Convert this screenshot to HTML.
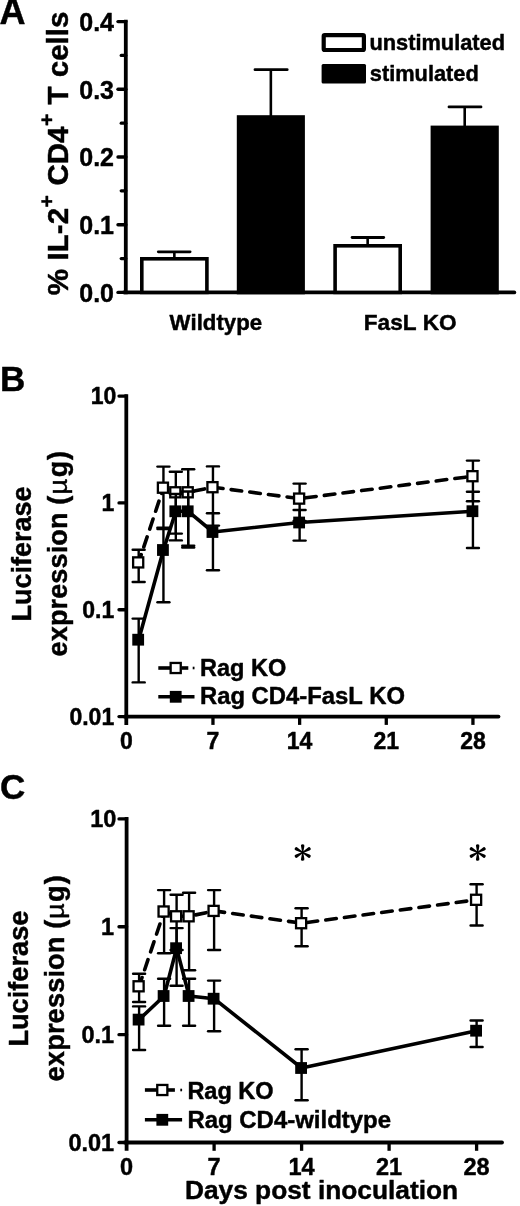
<!DOCTYPE html>
<html><head><meta charset="utf-8"><title>Figure</title>
<style>
html,body{margin:0;padding:0;background:#fff;}
body{width:520px;height:1206px;overflow:hidden;font-family:"Liberation Sans",sans-serif;}
svg{display:block;will-change:transform;}
svg text{font-family:"Liberation Sans",sans-serif;fill:#000;font-kerning:none;stroke:#000;stroke-width:0.45px;stroke-linejoin:round;}
</style></head><body>
<svg width="520" height="1206" viewBox="0 0 520 1206">
<rect x="0" y="0" width="520" height="1206" fill="#fff"/>
<text x="-0.6" y="24.4" font-size="36" font-weight="bold" text-anchor="start" >A</text>
<line x1="125.8" y1="19.700000000000003" x2="125.8" y2="294.29999999999995" stroke="#000" stroke-width="3.8" />
<line x1="123.89999999999999" y1="292.4" x2="514.3" y2="292.4" stroke="#000" stroke-width="3.8" stroke-linecap="round"/>
<line x1="118" y1="292.4" x2="125.8" y2="292.4" stroke="#000" stroke-width="3.4" stroke-linecap="round"/>
<text x="114.0" y="301.79999999999995" font-size="25" font-weight="bold" text-anchor="end" >0.0</text>
<line x1="121.2" y1="258.54999999999995" x2="125.8" y2="258.54999999999995" stroke="#000" stroke-width="3.2" stroke-linecap="round"/>
<line x1="118" y1="224.7" x2="125.8" y2="224.7" stroke="#000" stroke-width="3.4" stroke-linecap="round"/>
<text x="114.0" y="234.1" font-size="25" font-weight="bold" text-anchor="end" >0.1</text>
<line x1="121.2" y1="190.85" x2="125.8" y2="190.85" stroke="#000" stroke-width="3.2" stroke-linecap="round"/>
<line x1="118" y1="157.0" x2="125.8" y2="157.0" stroke="#000" stroke-width="3.4" stroke-linecap="round"/>
<text x="114.0" y="166.4" font-size="25" font-weight="bold" text-anchor="end" >0.2</text>
<line x1="121.2" y1="123.15" x2="125.8" y2="123.15" stroke="#000" stroke-width="3.2" stroke-linecap="round"/>
<line x1="118" y1="89.30000000000001" x2="125.8" y2="89.30000000000001" stroke="#000" stroke-width="3.4" stroke-linecap="round"/>
<text x="114.0" y="98.70000000000002" font-size="25" font-weight="bold" text-anchor="end" >0.3</text>
<line x1="121.2" y1="55.45000000000002" x2="125.8" y2="55.45000000000002" stroke="#000" stroke-width="3.2" stroke-linecap="round"/>
<line x1="118" y1="21.600000000000023" x2="125.8" y2="21.600000000000023" stroke="#000" stroke-width="3.4" stroke-linecap="round"/>
<text x="114.0" y="31.00000000000002" font-size="25" font-weight="bold" text-anchor="end" >0.4</text>
<g transform="translate(68.3,295.2) rotate(-90)"><text x="0" y="0" font-size="29.5" font-weight="bold">%</text></g>
<g transform="translate(68.3,260.4) rotate(-90)"><text x="0" y="0" font-size="29.5" font-weight="bold">IL-2</text></g>
<g transform="translate(54.0,207.4) rotate(-90)"><text x="0" y="0" font-size="21" font-weight="bold">+</text></g>
<g transform="translate(68.3,185.5) rotate(-90)"><text x="0" y="0" font-size="29.5" font-weight="bold">CD4</text></g>
<g transform="translate(54.0,126.1) rotate(-90)"><text x="0" y="0" font-size="21" font-weight="bold">+</text></g>
<g transform="translate(68.3,104.4) rotate(-90)"><text x="0" y="0" font-size="29.5" font-weight="bold">T</text></g>
<g transform="translate(68.3,77.2) rotate(-90)"><text x="0" y="0" font-size="29.5" font-weight="bold">cells</text></g>
<line x1="174.35" y1="251.8" x2="174.35" y2="259.0" stroke="#000" stroke-width="2.6" />
<line x1="158.3" y1="251.8" x2="190.1" y2="251.8" stroke="#000" stroke-width="2.8" stroke-linecap="round"/>
<rect x="141.8" y="258.8" width="65.10" height="33.60" fill="#fff" stroke="#000" stroke-width="3.6"/>
<line x1="270.85" y1="69.7" x2="270.85" y2="117.2" stroke="#000" stroke-width="2.6" />
<line x1="255.0" y1="69.7" x2="287.2" y2="69.7" stroke="#000" stroke-width="2.8" stroke-linecap="round"/>
<rect x="236.8" y="115.2" width="68.10" height="179.10" fill="#000"/>
<line x1="367.65" y1="237.5" x2="367.65" y2="246.0" stroke="#000" stroke-width="2.6" />
<line x1="352.1" y1="237.5" x2="383.7" y2="237.5" stroke="#000" stroke-width="2.8" stroke-linecap="round"/>
<rect x="335.1" y="245.8" width="65.10" height="46.60" fill="#fff" stroke="#000" stroke-width="3.6"/>
<line x1="464.70000000000005" y1="106.9" x2="464.70000000000005" y2="127.6" stroke="#000" stroke-width="2.6" />
<line x1="449.0" y1="106.9" x2="481.0" y2="106.9" stroke="#000" stroke-width="2.8" stroke-linecap="round"/>
<rect x="430.6" y="125.6" width="68.20" height="168.70" fill="#000"/>
<text x="169.6" y="330.4" font-size="22.2" font-weight="bold" text-anchor="start" >Wildtype</text>
<text x="363.8" y="330.4" font-size="22.6" font-weight="bold" text-anchor="start" >FasL KO</text>
<rect x="323.7" y="35.2" width="40.2" height="14.8" rx="1" fill="#fff" stroke="#000" stroke-width="4.2"/>
<text x="369.4" y="50.4" font-size="21.8" font-weight="bold" text-anchor="start" >unstimulated</text>
<rect x="321.6" y="64" width="44.4" height="19.4" rx="1.5" fill="#000"/>
<text x="369.8" y="80.8" font-size="21.8" font-weight="bold" text-anchor="start" >stimulated</text>
<text x="0" y="391.2" font-size="35" font-weight="bold" text-anchor="start" >B</text>
<line x1="126.3" y1="394.20000000000005" x2="126.3" y2="724.9" stroke="#000" stroke-width="3.8" />
<line x1="124.39999999999999" y1="716.6" x2="498.5" y2="716.6" stroke="#000" stroke-width="3.8" stroke-linecap="round"/>
<line x1="119" y1="396.1" x2="126.3" y2="396.1" stroke="#000" stroke-width="3.3" stroke-linecap="round"/>
<text x="116.3" y="404.1" font-size="23" font-weight="bold" text-anchor="end" >10</text>
<line x1="119" y1="502.93333333333334" x2="126.3" y2="502.93333333333334" stroke="#000" stroke-width="3.3" stroke-linecap="round"/>
<text x="114.2" y="510.93333333333334" font-size="23" font-weight="bold" text-anchor="end" >1</text>
<line x1="119" y1="609.7666666666667" x2="126.3" y2="609.7666666666667" stroke="#000" stroke-width="3.3" stroke-linecap="round"/>
<text x="114.2" y="617.7666666666667" font-size="23" font-weight="bold" text-anchor="end" >0.1</text>
<line x1="119" y1="716.6" x2="126.3" y2="716.6" stroke="#000" stroke-width="3.3" stroke-linecap="round"/>
<text x="114.2" y="724.6" font-size="23" font-weight="bold" text-anchor="end" >0.01</text>
<text x="126.30" y="748.9" font-size="23" font-weight="bold" text-anchor="middle" >0</text>
<line x1="212.96" y1="716.6" x2="212.96" y2="724.9" stroke="#000" stroke-width="3.3" />
<text x="212.96" y="748.9" font-size="23" font-weight="bold" text-anchor="middle" >7</text>
<line x1="299.62" y1="716.6" x2="299.62" y2="724.9" stroke="#000" stroke-width="3.3" />
<text x="299.62" y="748.9" font-size="23" font-weight="bold" text-anchor="middle" >14</text>
<line x1="386.28" y1="716.6" x2="386.28" y2="724.9" stroke="#000" stroke-width="3.3" />
<text x="386.28" y="748.9" font-size="23" font-weight="bold" text-anchor="middle" >21</text>
<line x1="472.94" y1="716.6" x2="472.94" y2="724.9" stroke="#000" stroke-width="3.3" />
<text x="472.94" y="748.9" font-size="23" font-weight="bold" text-anchor="middle" >28</text>
<g transform="translate(30.6,621.6) rotate(-90)"><text x="0" y="0" font-size="27" font-weight="bold">Luciferase</text></g>
<g transform="translate(66.7,656.4) rotate(-90)"><text x="0" y="0" font-size="27" font-weight="bold" textLength="160.6" lengthAdjust="spacing">expression (</text></g>
<g transform="translate(66.7,494.4) rotate(-90)"><text x="0" y="0" font-size="27" font-weight="normal" transform="scale(1,0.93)">µ</text></g>
<g transform="translate(66.7,477.3) rotate(-90)"><text x="0" y="0" font-size="27" font-weight="bold" textLength="26.4" lengthAdjust="spacing">g)</text></g>
<line x1="138.68" y1="549.8" x2="138.68" y2="582.0" stroke="#000" stroke-width="2.4" />
<line x1="132.68" y1="549.8" x2="144.68" y2="549.8" stroke="#000" stroke-width="2.4" stroke-linecap="round"/>
<line x1="132.68" y1="582.0" x2="144.68" y2="582.0" stroke="#000" stroke-width="2.4" stroke-linecap="round"/>
<line x1="163.44" y1="466.6" x2="163.44" y2="529.0" stroke="#000" stroke-width="2.4" />
<line x1="157.44" y1="466.6" x2="169.44" y2="466.6" stroke="#000" stroke-width="2.4" stroke-linecap="round"/>
<line x1="157.44" y1="529.0" x2="169.44" y2="529.0" stroke="#000" stroke-width="2.4" stroke-linecap="round"/>
<line x1="175.82" y1="471.8" x2="175.82" y2="533.6" stroke="#000" stroke-width="2.4" />
<line x1="169.82" y1="471.8" x2="181.82" y2="471.8" stroke="#000" stroke-width="2.4" stroke-linecap="round"/>
<line x1="169.82" y1="533.6" x2="181.82" y2="533.6" stroke="#000" stroke-width="2.4" stroke-linecap="round"/>
<line x1="188.20" y1="469.2" x2="188.20" y2="545.8" stroke="#000" stroke-width="2.4" />
<line x1="182.20" y1="469.2" x2="194.20" y2="469.2" stroke="#000" stroke-width="2.4" stroke-linecap="round"/>
<line x1="182.20" y1="545.8" x2="194.20" y2="545.8" stroke="#000" stroke-width="2.4" stroke-linecap="round"/>
<line x1="212.96" y1="466.4" x2="212.96" y2="525.6" stroke="#000" stroke-width="2.4" />
<line x1="206.96" y1="466.4" x2="218.96" y2="466.4" stroke="#000" stroke-width="2.4" stroke-linecap="round"/>
<line x1="206.96" y1="525.6" x2="218.96" y2="525.6" stroke="#000" stroke-width="2.4" stroke-linecap="round"/>
<line x1="299.62" y1="483.6" x2="299.62" y2="521.0" stroke="#000" stroke-width="2.4" />
<line x1="293.62" y1="483.6" x2="305.62" y2="483.6" stroke="#000" stroke-width="2.4" stroke-linecap="round"/>
<line x1="293.62" y1="521.0" x2="305.62" y2="521.0" stroke="#000" stroke-width="2.4" stroke-linecap="round"/>
<line x1="472.94" y1="460.6" x2="472.94" y2="501.2" stroke="#000" stroke-width="2.4" />
<line x1="466.94" y1="460.6" x2="478.94" y2="460.6" stroke="#000" stroke-width="2.4" stroke-linecap="round"/>
<line x1="466.94" y1="501.2" x2="478.94" y2="501.2" stroke="#000" stroke-width="2.4" stroke-linecap="round"/>
<polyline points="138.68,562.4 163.44,487.7 175.82,492.3 188.20,492.3 212.96,487.2 299.62,498.6 472.94,476.2" fill="none" stroke="#000" stroke-width="3.6" stroke-dasharray="10.6 8.2" stroke-dashoffset="2.5" stroke-linecap="round"/>
<rect x="133.13" y="557.35" width="10.10" height="10.10" fill="#fff" stroke="#000" stroke-width="2.3"/>
<rect x="157.89" y="482.65" width="10.10" height="10.10" fill="#fff" stroke="#000" stroke-width="2.3"/>
<rect x="170.27" y="487.25" width="10.10" height="10.10" fill="#fff" stroke="#000" stroke-width="2.3"/>
<rect x="182.65" y="487.25" width="10.10" height="10.10" fill="#fff" stroke="#000" stroke-width="2.3"/>
<rect x="207.41" y="482.15" width="10.10" height="10.10" fill="#fff" stroke="#000" stroke-width="2.3"/>
<rect x="294.07" y="493.55" width="10.10" height="10.10" fill="#fff" stroke="#000" stroke-width="2.3"/>
<rect x="467.39" y="471.15" width="10.10" height="10.10" fill="#fff" stroke="#000" stroke-width="2.3"/>
<line x1="138.68" y1="618.6" x2="138.68" y2="682.4" stroke="#000" stroke-width="2.4" />
<line x1="132.68" y1="618.6" x2="144.68" y2="618.6" stroke="#000" stroke-width="2.4" stroke-linecap="round"/>
<line x1="132.68" y1="682.4" x2="144.68" y2="682.4" stroke="#000" stroke-width="2.4" stroke-linecap="round"/>
<line x1="163.44" y1="527.6" x2="163.44" y2="602.3" stroke="#000" stroke-width="2.4" />
<line x1="157.44" y1="527.6" x2="169.44" y2="527.6" stroke="#000" stroke-width="2.4" stroke-linecap="round"/>
<line x1="157.44" y1="602.3" x2="169.44" y2="602.3" stroke="#000" stroke-width="2.4" stroke-linecap="round"/>
<line x1="175.82" y1="494.0" x2="175.82" y2="540.4" stroke="#000" stroke-width="2.4" />
<line x1="169.82" y1="494.0" x2="181.82" y2="494.0" stroke="#000" stroke-width="2.4" stroke-linecap="round"/>
<line x1="169.82" y1="540.4" x2="181.82" y2="540.4" stroke="#000" stroke-width="2.4" stroke-linecap="round"/>
<line x1="188.20" y1="491.5" x2="188.20" y2="547.6" stroke="#000" stroke-width="2.4" />
<line x1="182.20" y1="491.5" x2="194.20" y2="491.5" stroke="#000" stroke-width="2.4" stroke-linecap="round"/>
<line x1="182.20" y1="547.6" x2="194.20" y2="547.6" stroke="#000" stroke-width="2.4" stroke-linecap="round"/>
<line x1="212.96" y1="513.2" x2="212.96" y2="570.2" stroke="#000" stroke-width="2.4" />
<line x1="206.96" y1="513.2" x2="218.96" y2="513.2" stroke="#000" stroke-width="2.4" stroke-linecap="round"/>
<line x1="206.96" y1="570.2" x2="218.96" y2="570.2" stroke="#000" stroke-width="2.4" stroke-linecap="round"/>
<line x1="299.62" y1="510.0" x2="299.62" y2="540.6" stroke="#000" stroke-width="2.4" />
<line x1="293.62" y1="510.0" x2="305.62" y2="510.0" stroke="#000" stroke-width="2.4" stroke-linecap="round"/>
<line x1="293.62" y1="540.6" x2="305.62" y2="540.6" stroke="#000" stroke-width="2.4" stroke-linecap="round"/>
<line x1="472.94" y1="491.8" x2="472.94" y2="548.0" stroke="#000" stroke-width="2.4" />
<line x1="466.94" y1="491.8" x2="478.94" y2="491.8" stroke="#000" stroke-width="2.4" stroke-linecap="round"/>
<line x1="466.94" y1="548.0" x2="478.94" y2="548.0" stroke="#000" stroke-width="2.4" stroke-linecap="round"/>
<polyline points="138.68,639.7 163.44,550.0 175.82,511.3 188.20,511.3 212.96,532.0 299.62,522.5 472.94,511.2" fill="none" stroke="#000" stroke-width="3.6" stroke-linejoin="round"/>
<rect x="132.28" y="633.80" width="11.8" height="11.8" fill="#000"/>
<rect x="157.04" y="544.10" width="11.8" height="11.8" fill="#000"/>
<rect x="169.42" y="505.40" width="11.8" height="11.8" fill="#000"/>
<rect x="181.80" y="505.40" width="11.8" height="11.8" fill="#000"/>
<rect x="206.56" y="526.10" width="11.8" height="11.8" fill="#000"/>
<rect x="293.22" y="516.60" width="11.8" height="11.8" fill="#000"/>
<rect x="466.54" y="505.30" width="11.8" height="11.8" fill="#000"/>
<line x1="158.3" y1="668.0" x2="170.3" y2="668.0" stroke="#000" stroke-width="3.6" />
<line x1="181.3" y1="668.0" x2="188.3" y2="668.0" stroke="#000" stroke-width="3.6" />
<line x1="192.7" y1="668.0" x2="194.5" y2="668.0" stroke="#000" stroke-width="2.6" />
<rect x="170.65" y="662.95" width="10.10" height="10.10" fill="#fff" stroke="#000" stroke-width="2.3"/>
<line x1="158.3" y1="696.8" x2="194.5" y2="696.8" stroke="#000" stroke-width="3.6" />
<rect x="169.80" y="690.90" width="11.8" height="11.8" fill="#000"/>
<text x="200.0" y="676.3" font-size="23.5" font-weight="bold" text-anchor="start" >Rag KO</text>
<text x="200.0" y="704.4" font-size="23.5" font-weight="bold" text-anchor="start" textLength="205" lengthAdjust="spacingAndGlyphs">Rag CD4-FasL KO</text>
<text x="0" y="799.3" font-size="35" font-weight="bold" text-anchor="start" >C</text>
<line x1="126.6" y1="817.0" x2="126.6" y2="1150.8" stroke="#000" stroke-width="3.8" />
<line x1="124.69999999999999" y1="1142.5" x2="502.0" y2="1142.5" stroke="#000" stroke-width="3.8" stroke-linecap="round"/>
<line x1="119" y1="818.9" x2="126.6" y2="818.9" stroke="#000" stroke-width="3.3" stroke-linecap="round"/>
<text x="116.3" y="827.1999999999999" font-size="23.5" font-weight="bold" text-anchor="end" >10</text>
<line x1="119" y1="926.7666666666667" x2="126.6" y2="926.7666666666667" stroke="#000" stroke-width="3.3" stroke-linecap="round"/>
<text x="114.2" y="935.0666666666666" font-size="23.5" font-weight="bold" text-anchor="end" >1</text>
<line x1="119" y1="1034.6333333333332" x2="126.6" y2="1034.6333333333332" stroke="#000" stroke-width="3.3" stroke-linecap="round"/>
<text x="114.2" y="1042.9333333333332" font-size="23.5" font-weight="bold" text-anchor="end" >0.1</text>
<line x1="119" y1="1142.5" x2="126.6" y2="1142.5" stroke="#000" stroke-width="3.3" stroke-linecap="round"/>
<text x="114.2" y="1150.8" font-size="23.5" font-weight="bold" text-anchor="end" >0.01</text>
<text x="126.60" y="1174.5" font-size="23.5" font-weight="bold" text-anchor="middle" >0</text>
<line x1="214.10" y1="1142.5" x2="214.10" y2="1150.8" stroke="#000" stroke-width="3.3" />
<text x="214.10" y="1174.5" font-size="23.5" font-weight="bold" text-anchor="middle" >7</text>
<line x1="301.60" y1="1142.5" x2="301.60" y2="1150.8" stroke="#000" stroke-width="3.3" />
<text x="301.60" y="1174.5" font-size="23.5" font-weight="bold" text-anchor="middle" >14</text>
<line x1="389.10" y1="1142.5" x2="389.10" y2="1150.8" stroke="#000" stroke-width="3.3" />
<text x="389.10" y="1174.5" font-size="23.5" font-weight="bold" text-anchor="middle" >21</text>
<line x1="476.60" y1="1142.5" x2="476.60" y2="1150.8" stroke="#000" stroke-width="3.3" />
<text x="476.60" y="1174.5" font-size="23.5" font-weight="bold" text-anchor="middle" >28</text>
<g transform="translate(27.7,1046.6) rotate(-90)"><text x="0" y="0" font-size="27.2" font-weight="bold">Luciferase</text></g>
<g transform="translate(64.0,1081.4) rotate(-90)"><text x="0" y="0" font-size="27.2" font-weight="bold" textLength="161.8" lengthAdjust="spacing">expression (</text></g>
<g transform="translate(64.0,919.1) rotate(-90)"><text x="0" y="0" font-size="27.2" font-weight="normal" transform="scale(1,0.93)">µ</text></g>
<g transform="translate(64.0,901.9) rotate(-90)"><text x="0" y="0" font-size="27.2" font-weight="bold" textLength="26.6" lengthAdjust="spacing">g)</text></g>
<line x1="139.10" y1="973.8" x2="139.10" y2="1002.0" stroke="#000" stroke-width="2.4" />
<line x1="133.10" y1="973.8" x2="145.10" y2="973.8" stroke="#000" stroke-width="2.4" stroke-linecap="round"/>
<line x1="133.10" y1="1002.0" x2="145.10" y2="1002.0" stroke="#000" stroke-width="2.4" stroke-linecap="round"/>
<line x1="164.10" y1="890.1" x2="164.10" y2="953.3" stroke="#000" stroke-width="2.4" />
<line x1="158.10" y1="890.1" x2="170.10" y2="890.1" stroke="#000" stroke-width="2.4" stroke-linecap="round"/>
<line x1="158.10" y1="953.3" x2="170.10" y2="953.3" stroke="#000" stroke-width="2.4" stroke-linecap="round"/>
<line x1="176.60" y1="894.7" x2="176.60" y2="950.0" stroke="#000" stroke-width="2.4" />
<line x1="170.60" y1="894.7" x2="182.60" y2="894.7" stroke="#000" stroke-width="2.4" stroke-linecap="round"/>
<line x1="170.60" y1="950.0" x2="182.60" y2="950.0" stroke="#000" stroke-width="2.4" stroke-linecap="round"/>
<line x1="189.10" y1="892.7" x2="189.10" y2="970.2" stroke="#000" stroke-width="2.4" />
<line x1="183.10" y1="892.7" x2="195.10" y2="892.7" stroke="#000" stroke-width="2.4" stroke-linecap="round"/>
<line x1="183.10" y1="970.2" x2="195.10" y2="970.2" stroke="#000" stroke-width="2.4" stroke-linecap="round"/>
<line x1="214.10" y1="890.1" x2="214.10" y2="950.0" stroke="#000" stroke-width="2.4" />
<line x1="208.10" y1="890.1" x2="220.10" y2="890.1" stroke="#000" stroke-width="2.4" stroke-linecap="round"/>
<line x1="208.10" y1="950.0" x2="220.10" y2="950.0" stroke="#000" stroke-width="2.4" stroke-linecap="round"/>
<line x1="301.60" y1="908.3" x2="301.60" y2="946.3" stroke="#000" stroke-width="2.4" />
<line x1="295.60" y1="908.3" x2="307.60" y2="908.3" stroke="#000" stroke-width="2.4" stroke-linecap="round"/>
<line x1="295.60" y1="946.3" x2="307.60" y2="946.3" stroke="#000" stroke-width="2.4" stroke-linecap="round"/>
<line x1="476.60" y1="884.3" x2="476.60" y2="925.5" stroke="#000" stroke-width="2.4" />
<line x1="470.60" y1="884.3" x2="482.60" y2="884.3" stroke="#000" stroke-width="2.4" stroke-linecap="round"/>
<line x1="470.60" y1="925.5" x2="482.60" y2="925.5" stroke="#000" stroke-width="2.4" stroke-linecap="round"/>
<polyline points="139.10,986.3 164.10,911.5 176.60,916.3 189.10,916.3 214.10,910.9 301.60,923.2 476.60,899.8" fill="none" stroke="#000" stroke-width="3.6" stroke-dasharray="10.6 8.2" stroke-dashoffset="1.3" stroke-linecap="round"/>
<rect x="133.55" y="981.25" width="10.10" height="10.10" fill="#fff" stroke="#000" stroke-width="2.3"/>
<rect x="158.55" y="906.45" width="10.10" height="10.10" fill="#fff" stroke="#000" stroke-width="2.3"/>
<rect x="171.05" y="911.25" width="10.10" height="10.10" fill="#fff" stroke="#000" stroke-width="2.3"/>
<rect x="183.55" y="911.25" width="10.10" height="10.10" fill="#fff" stroke="#000" stroke-width="2.3"/>
<rect x="208.55" y="905.85" width="10.10" height="10.10" fill="#fff" stroke="#000" stroke-width="2.3"/>
<rect x="296.05" y="918.15" width="10.10" height="10.10" fill="#fff" stroke="#000" stroke-width="2.3"/>
<rect x="471.05" y="894.75" width="10.10" height="10.10" fill="#fff" stroke="#000" stroke-width="2.3"/>
<line x1="139.10" y1="1006.4" x2="139.10" y2="1050.0" stroke="#000" stroke-width="2.4" />
<line x1="133.10" y1="1006.4" x2="145.10" y2="1006.4" stroke="#000" stroke-width="2.4" stroke-linecap="round"/>
<line x1="133.10" y1="1050.0" x2="145.10" y2="1050.0" stroke="#000" stroke-width="2.4" stroke-linecap="round"/>
<line x1="164.10" y1="978.8" x2="164.10" y2="1025.7" stroke="#000" stroke-width="2.4" />
<line x1="158.10" y1="978.8" x2="170.10" y2="978.8" stroke="#000" stroke-width="2.4" stroke-linecap="round"/>
<line x1="158.10" y1="1025.7" x2="170.10" y2="1025.7" stroke="#000" stroke-width="2.4" stroke-linecap="round"/>
<line x1="176.60" y1="928.1" x2="176.60" y2="985.8" stroke="#000" stroke-width="2.4" />
<line x1="170.60" y1="928.1" x2="182.60" y2="928.1" stroke="#000" stroke-width="2.4" stroke-linecap="round"/>
<line x1="170.60" y1="985.8" x2="182.60" y2="985.8" stroke="#000" stroke-width="2.4" stroke-linecap="round"/>
<line x1="189.10" y1="978.8" x2="189.10" y2="1025.7" stroke="#000" stroke-width="2.4" />
<line x1="183.10" y1="978.8" x2="195.10" y2="978.8" stroke="#000" stroke-width="2.4" stroke-linecap="round"/>
<line x1="183.10" y1="1025.7" x2="195.10" y2="1025.7" stroke="#000" stroke-width="2.4" stroke-linecap="round"/>
<line x1="214.10" y1="980.6" x2="214.10" y2="1031.2" stroke="#000" stroke-width="2.4" />
<line x1="208.10" y1="980.6" x2="220.10" y2="980.6" stroke="#000" stroke-width="2.4" stroke-linecap="round"/>
<line x1="208.10" y1="1031.2" x2="220.10" y2="1031.2" stroke="#000" stroke-width="2.4" stroke-linecap="round"/>
<line x1="301.60" y1="1049.3" x2="301.60" y2="1100.3" stroke="#000" stroke-width="2.4" />
<line x1="295.60" y1="1049.3" x2="307.60" y2="1049.3" stroke="#000" stroke-width="2.4" stroke-linecap="round"/>
<line x1="295.60" y1="1100.3" x2="307.60" y2="1100.3" stroke="#000" stroke-width="2.4" stroke-linecap="round"/>
<line x1="476.60" y1="1020.5" x2="476.60" y2="1047.0" stroke="#000" stroke-width="2.4" />
<line x1="470.60" y1="1020.5" x2="482.60" y2="1020.5" stroke="#000" stroke-width="2.4" stroke-linecap="round"/>
<line x1="470.60" y1="1047.0" x2="482.60" y2="1047.0" stroke="#000" stroke-width="2.4" stroke-linecap="round"/>
<polyline points="139.10,1019.6 164.10,996.0 176.60,948.2 189.10,996.0 214.10,998.7 301.60,1068.0 476.60,1030.7" fill="none" stroke="#000" stroke-width="3.6" stroke-linejoin="round"/>
<rect x="132.70" y="1013.70" width="11.8" height="11.8" fill="#000"/>
<rect x="157.70" y="990.10" width="11.8" height="11.8" fill="#000"/>
<rect x="170.20" y="942.30" width="11.8" height="11.8" fill="#000"/>
<rect x="182.70" y="990.10" width="11.8" height="11.8" fill="#000"/>
<rect x="207.70" y="992.80" width="11.8" height="11.8" fill="#000"/>
<rect x="295.20" y="1062.10" width="11.8" height="11.8" fill="#000"/>
<rect x="470.20" y="1024.80" width="11.8" height="11.8" fill="#000"/>
<line x1="144.9" y1="1090.0" x2="156.9" y2="1090.0" stroke="#000" stroke-width="3.6" />
<line x1="167.9" y1="1090.0" x2="174.9" y2="1090.0" stroke="#000" stroke-width="3.6" />
<line x1="180.3" y1="1090.0" x2="182.10000000000002" y2="1090.0" stroke="#000" stroke-width="2.6" />
<rect x="157.25" y="1084.95" width="10.10" height="10.10" fill="#fff" stroke="#000" stroke-width="2.3"/>
<line x1="144.9" y1="1119.8" x2="182.10000000000002" y2="1119.8" stroke="#000" stroke-width="3.6" />
<rect x="156.40" y="1113.90" width="11.8" height="11.8" fill="#000"/>
<text x="187.4" y="1098.7" font-size="23.5" font-weight="bold" text-anchor="start" >Rag KO</text>
<text x="187.4" y="1128.2" font-size="23.5" font-weight="bold" text-anchor="start" textLength="203.7" lengthAdjust="spacingAndGlyphs">Rag CD4-wildtype</text>
<g transform="translate(302.7,852.5)" fill="#000"><path transform="rotate(0)" d="M-0.55,0 L-1.65,-6.2 A1.7,1.7 0 1 1 1.65,-6.2 L0.55,0 Z"/><path transform="rotate(60)" d="M-0.55,0 L-1.65,-6.8 A1.7,1.7 0 1 1 1.65,-6.8 L0.55,0 Z"/><path transform="rotate(120)" d="M-0.55,0 L-1.65,-6.8 A1.7,1.7 0 1 1 1.65,-6.8 L0.55,0 Z"/><path transform="rotate(180)" d="M-0.55,0 L-1.65,-6.2 A1.7,1.7 0 1 1 1.65,-6.2 L0.55,0 Z"/><path transform="rotate(240)" d="M-0.55,0 L-1.65,-6.8 A1.7,1.7 0 1 1 1.65,-6.8 L0.55,0 Z"/><path transform="rotate(300)" d="M-0.55,0 L-1.65,-6.8 A1.7,1.7 0 1 1 1.65,-6.8 L0.55,0 Z"/><circle r="1.3"/></g>
<g transform="translate(477.7,852.5)" fill="#000"><path transform="rotate(0)" d="M-0.55,0 L-1.65,-6.2 A1.7,1.7 0 1 1 1.65,-6.2 L0.55,0 Z"/><path transform="rotate(60)" d="M-0.55,0 L-1.65,-6.8 A1.7,1.7 0 1 1 1.65,-6.8 L0.55,0 Z"/><path transform="rotate(120)" d="M-0.55,0 L-1.65,-6.8 A1.7,1.7 0 1 1 1.65,-6.8 L0.55,0 Z"/><path transform="rotate(180)" d="M-0.55,0 L-1.65,-6.2 A1.7,1.7 0 1 1 1.65,-6.2 L0.55,0 Z"/><path transform="rotate(240)" d="M-0.55,0 L-1.65,-6.8 A1.7,1.7 0 1 1 1.65,-6.8 L0.55,0 Z"/><path transform="rotate(300)" d="M-0.55,0 L-1.65,-6.8 A1.7,1.7 0 1 1 1.65,-6.8 L0.55,0 Z"/><circle r="1.3"/></g>
<text x="184.9" y="1198.9" font-size="26.3" font-weight="bold" text-anchor="start" >Days post inoculation</text>
</svg>
</body></html>
